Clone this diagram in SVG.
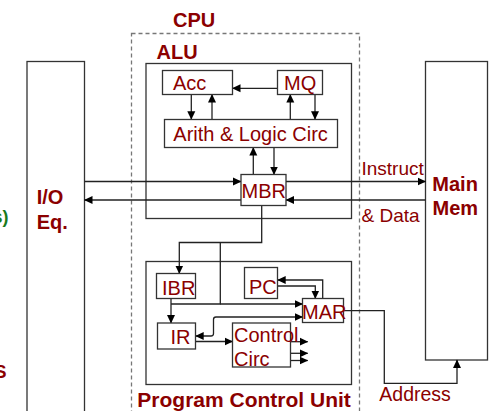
<svg xmlns="http://www.w3.org/2000/svg" width="491" height="411" viewBox="0 0 491 411">
<defs>
<style>
.box{fill:#fff;stroke:#333;stroke-width:1.3}
.frame{fill:none;stroke:#333;stroke-width:1.3}
.dash{fill:none;stroke:#777;stroke-width:1.3;stroke-dasharray:4 3}
.t{font-family:"Liberation Sans",Arial,sans-serif;font-size:20px;fill:#8B0000}
.b{font-family:"Liberation Sans",Arial,sans-serif;font-size:20px;font-weight:bold;fill:#8B0000}
.c{fill:none;stroke:#222;stroke-width:1.3}
</style>
<marker id="ah" markerUnits="userSpaceOnUse" markerWidth="9" markerHeight="9" refX="8" refY="4.5" orient="auto-start-reverse" viewBox="0 0 9 9">
<path d="M0,0.5 L8.5,4.5 L0,8.5 z" fill="#000"/>
</marker>
</defs>
<rect width="491" height="411" fill="#fff"/>

<g id="partial-labels">
<text x="8.5" y="222.5" font-family="Liberation Sans,Arial,sans-serif" font-size="18" font-weight="bold" fill="#1a7a1a" text-anchor="end">s)</text>
<text x="6.5" y="377.7" font-family="Liberation Sans,Arial,sans-serif" font-size="18" font-weight="bold" fill="#8B0000" text-anchor="end">S</text>
</g>

<g id="cpu">
<rect class="dash" x="131.5" y="33.5" width="228" height="400"/>
<text class="b" x="173" y="26.7">CPU</text>
</g>

<g id="io">
<rect class="frame" x="27" y="61.5" width="57.5" height="360"/>
<text class="b" x="36.7" y="204.3">I/O</text>
<text class="b" x="36.7" y="229.3">Eq.</text>
</g>

<g id="mainmem">
<rect class="frame" x="425.5" y="61.5" width="62" height="298.5"/>
<text class="b" x="432.3" y="190.5">Main</text>
<text class="b" x="432.5" y="215">Mem</text>
</g>

<g id="alu">
<rect class="frame" x="146" y="63.5" width="205.5" height="155"/>
<text class="b" x="156.5" y="59">ALU</text>
</g>

<g id="pcu">
<rect class="frame" x="146" y="261.5" width="205.5" height="123"/>
<text class="b" x="137.3" y="406.5" style="font-size:21px">Program Control Unit</text>
</g>

<g id="connectors">
<!-- ALU internals -->
<line class="c" x1="277.5" y1="88.3" x2="232.5" y2="88.3" marker-end="url(#ah)"/>
<line class="c" x1="191.3" y1="94.5" x2="191.3" y2="119.3" marker-end="url(#ah)"/>
<line class="c" x1="212" y1="119.3" x2="212" y2="94.5" marker-end="url(#ah)"/>
<line class="c" x1="290.3" y1="119.3" x2="290.3" y2="94.5" marker-end="url(#ah)"/>
<line class="c" x1="315" y1="94.5" x2="315" y2="119.3" marker-end="url(#ah)"/>
<line class="c" x1="253.3" y1="174.5" x2="253.3" y2="147.5" marker-end="url(#ah)"/>
<line class="c" x1="274" y1="147.5" x2="274" y2="174.5" marker-end="url(#ah)"/>
<!-- IO / MBR / Main Mem -->
<line class="c" x1="84.5" y1="181.5" x2="241" y2="181.5" marker-end="url(#ah)"/>
<line class="c" x1="286" y1="181.5" x2="425.5" y2="181.5" marker-end="url(#ah)"/>
<line class="c" x1="425.5" y1="200" x2="286" y2="200" marker-end="url(#ah)"/>
<line class="c" x1="241" y1="200" x2="84.5" y2="200" marker-end="url(#ah)"/>
<!-- MBR down to PCU -->
<polyline class="c" points="261.7,205.7 261.7,242.5 179.3,242.5 179.3,273.5" marker-end="url(#ah)"/>
<polyline class="c" points="220.3,242.5 220.3,304 171,304"/>
<line class="c" x1="220.3" y1="304" x2="302.5" y2="304" marker-end="url(#ah)"/>
<line class="c" x1="171" y1="298.5" x2="171" y2="323" marker-end="url(#ah)"/>
<!-- IR <-> MAR -->
<path class="c" d="M195.7,336 H211 Q213.5,336 213.5,333.5 V319.5 Q213.5,317 216,317 H302.5" marker-start="url(#ah)" marker-end="url(#ah)"/>
<!-- IR -> Control -->
<line class="c" x1="195.7" y1="341.5" x2="232.5" y2="341.5" marker-end="url(#ah)"/>
<!-- PC <-> MAR -->
<polyline class="c" points="277.7,286 315.3,286 315.3,298.5" marker-end="url(#ah)"/>
<polyline class="c" points="322.7,298.5 322.7,280 277.7,280" marker-end="url(#ah)"/>
<!-- Control outputs -->
<line class="c" x1="286.5" y1="341.7" x2="307.7" y2="341.7" marker-end="url(#ah)"/>
<line class="c" x1="285.7" y1="353.3" x2="307.7" y2="353.3" marker-end="url(#ah)"/>
<line class="c" x1="285.7" y1="360.5" x2="307.7" y2="360.5" marker-end="url(#ah)"/>
<!-- MAR -> Main Mem address -->
<polyline class="c" points="343.3,310.7 384.3,310.7 384.3,383.3 457,383.3 457,360" marker-end="url(#ah)"/>
<text class="t" x="361.5" y="175" style="font-size:19px">Instruct</text>
<text class="t" x="361.5" y="221.5" style="font-size:19px">&amp; Data</text>
<text class="t" x="379.3" y="401" style="font-size:19.5px">Address</text>
</g>

<g id="acc">
<rect class="box" x="162.5" y="70.5" width="70" height="24"/>
<text class="t" x="173" y="90">Acc</text>
</g>
<g id="mq">
<rect class="box" x="277.5" y="70.5" width="45" height="24"/>
<text class="t" x="284" y="90">MQ</text>
</g>
<g id="arith">
<rect class="box" x="164.5" y="119.5" width="173" height="28"/>
<text class="t" x="173.3" y="141">Arith &amp; Logic Circ</text>
</g>
<g id="mbr">
<rect class="box" x="241" y="174.5" width="45" height="31"/>
<text class="t" x="241.5" y="197.5">MBR</text>
</g>
<g id="ibr">
<rect class="box" x="156.5" y="273.5" width="39" height="25"/>
<text class="t" x="162" y="294.5">IBR</text>
</g>
<g id="pc">
<rect class="box" x="244.5" y="267.5" width="33" height="31"/>
<text class="t" x="249" y="294">PC</text>
</g>
<g id="mar">
<rect class="box" x="302.5" y="298.5" width="41" height="24"/>
<text class="t" x="302" y="319">MAR</text>
</g>
<g id="ir">
<rect class="box" x="157.5" y="323" width="38" height="26"/>
<text class="t" x="170.5" y="343.5">IR</text>
</g>
<g id="control">
<rect class="box" x="232.5" y="323" width="58" height="44"/>
<text class="t" x="234" y="341.5">Control</text>
<text class="t" x="234" y="365.5">Circ</text>
</g>
</svg>
